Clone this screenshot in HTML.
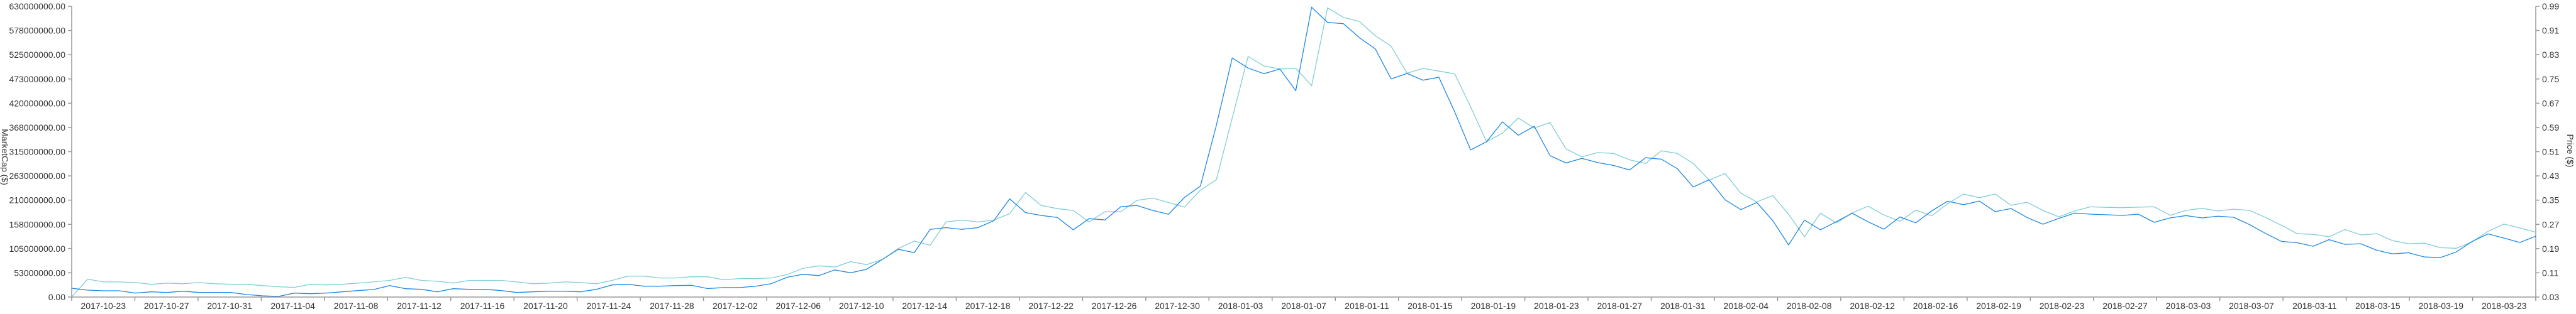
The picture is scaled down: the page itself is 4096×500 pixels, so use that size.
<!DOCTYPE html>
<html><head><meta charset="utf-8">
<style>
html,body{margin:0;padding:0;background:#fff;}
svg{display:block;font-family:"Liberation Sans",Arial,sans-serif;}
</style></head>
<body>
<svg id="chart" width="4096" height="500" xmlns="http://www.w3.org/2000/svg"></svg>
<script>
const marketCap = [19,15,13.6,13.6,8.6,11.3,10,12.7,10,10,10,5.4,2.7,1.4,8.6,7.2,8.6,11.3,14,16.3,24.9,18.1,16.7,11.3,18.1,16.7,16.7,14,10,11.3,12.7,12.7,11.3,16.7,26.3,27.6,23.5,23.5,24.9,25.5,
18.4,20.5,20.5,23.3,28.8,42.9,49.3,46.5,58.8,52.5,60.1,81.6,103.4,96.2,146.7,150.4,146.7,150.4,165.3,212.7,183,176.8,172.5,145.7,169.8,167.1,195.8,198.5,187.6,179.5,215.8,240.4,
371.5,518,496.3,484,493.9,447.3,628,595,592.3,562,537.9,472.6,484.4,469.8,476.2,401,318.8,336.5,379.6,350.6,370.1,306.2,290.5,300.4,291.3,285.1,275.4,301.8,298.7,278.1,238.5,254,210.9,189.4,204.9,165.7,112.9,166.7,145.7,163,181.7,163,147.1,173.5,160.8,186.7,207.6,
200.2,207.9,185.1,191.9,172.4,157.8,170.5,181.9,179.6,178.3,176.9,179.6,161.9,171.4,176.5,171.4,175.1,172.8,156.9,137.8,120.6,117.7,110.1,124.4,114.2,115.5,101.4,93.6,95.9,86.8,85.5,97.7,120.6,136.9,127.8,118.2,131.9];
const price = [0.03,0.089,0.080,0.080,0.078,0.072,0.076,0.074,0.078,0.074,0.072,0.072,0.068,0.064,0.062,0.072,0.070,0.072,0.076,0.080,0.085,0.095,0.085,0.082,0.076,0.085,0.085,0.085,0.080,0.074,0.076,0.080,0.078,0.074,0.085,0.099,0.099,0.093,0.093,0.097,
0.097,0.087,0.091,0.091,0.093,0.104,0.125,0.133,0.129,0.147,0.137,0.154,0.190,0.215,0.201,0.278,0.284,0.278,0.284,0.305,0.375,0.332,0.322,0.316,0.278,0.312,0.312,0.349,0.357,0.342,0.327,0.383,
0.417,0.621,0.824,0.793,0.783,0.785,0.728,0.985,0.953,0.940,0.893,0.858,0.769,0.785,0.776,0.767,0.658,0.543,0.571,0.621,0.588,0.606,0.519,0.493,0.507,0.504,0.483,0.471,0.513,0.504,0.471,0.416,0.438,0.373,0.344,0.365,0.303,0.229,0.307,0.275,0.308,0.330,0.301,0.280,0.317,0.298,0.338,
0.370,0.358,0.370,0.333,0.343,0.316,0.295,0.314,0.328,0.326,0.325,0.327,0.328,0.300,0.316,0.323,0.314,0.320,0.316,0.293,0.267,0.239,0.237,0.229,0.253,0.235,0.239,0.216,0.206,0.208,0.193,0.191,0.212,0.247,0.271,0.258,0.244];
const leftTicks = ["630000000.00","578000000.00","525000000.00","473000000.00","420000000.00","368000000.00","315000000.00","263000000.00","210000000.00","158000000.00","105000000.00","53000000.00","0.00"];
const rightTicks = ["0.99","0.91","0.83","0.75","0.67","0.59","0.51","0.43","0.35","0.27","0.19","0.11","0.03"];
const xLabels = ["2017-10-23","2017-10-27","2017-10-31","2017-11-04","2017-11-08","2017-11-12","2017-11-16","2017-11-20","2017-11-24","2017-11-28","2017-12-02","2017-12-06","2017-12-10","2017-12-14","2017-12-18","2017-12-22","2017-12-26","2017-12-30","2018-01-03","2018-01-07","2018-01-11","2018-01-15","2018-01-19","2018-01-23","2018-01-27","2018-01-31","2018-02-04","2018-02-08","2018-02-12","2018-02-16","2018-02-19","2018-02-23","2018-02-27","2018-03-03","2018-03-07","2018-03-11","2018-03-15","2018-03-19","2018-03-23"];

const NS="http://www.w3.org/2000/svg";
const svg=document.getElementById('chart');
const L=114,R=4032,T=10,B=473;
function mk(tag,attrs,parent){const e=document.createElementNS(NS,tag);for(const k in attrs)e.setAttribute(k,attrs[k]);(parent||svg).appendChild(e);return e;}
const n=marketCap.length;
function xAt(i){return L+(R-L)*i/(n-1);}
function yLeft(v){return B-(B-T)*v/630;}
function yRight(v){return B-(B-T)*(v-0.03)/0.96;}

const axisL=mk('line',{x1:L,y1:T,x2:L,y2:B+5,stroke:'#999','stroke-width':1.5});


const axisR=mk('line',{x1:R,y1:T,x2:R,y2:B+5,stroke:'#999','stroke-width':1.5});


const axisX=mk('line',{x1:L,y1:B,x2:R,y2:B,stroke:'#999','stroke-width':1.5});



leftTicks.forEach((t,k)=>{
  const y=T+(B-T)*k/(leftTicks.length-1);
  const tk=mk('line',{x1:L-6,y1:y,x2:L,y2:y,stroke:'#999','stroke-width':1.5});
  
  
  const tx=mk('text',{x:L-10,y:y+5,'text-anchor':'end','font-size':14,fill:'#333'});
  tx.textContent=t;
  
  
});
rightTicks.forEach((t,k)=>{
  const y=T+(B-T)*k/(rightTicks.length-1);
  const tk=mk('line',{x1:R,y1:y,x2:R+6,y2:y,stroke:'#999','stroke-width':1.5});
  
  
  const tx=mk('text',{x:R+10,y:y+5,'text-anchor':'start','font-size':14,fill:'#333'});
  tx.textContent=t;
  
  
});
const labelCount=xLabels.length;
const bw=(R-L)/labelCount;
for(let k=0;k<=labelCount;k++){
  const x=L+bw*k;
  const tk=mk('line',{x1:x,y1:B,x2:x,y2:B+6,stroke:'#999','stroke-width':1.5});
  
  
}
xLabels.forEach((s,k)=>{
  const tx=mk('text',{x:L+bw*(k+0.5),y:492,'text-anchor':'middle','font-size':14,fill:'#333'});
  tx.textContent=s;
  
  
});
const tl=mk('text',{x:0,y:0,transform:'translate(3,250) rotate(90)','text-anchor':'middle','font-size':14,fill:'#333'});
tl.textContent='MarketCap ($)';


const tr=mk('text',{x:0,y:0,transform:'translate(4082,240) rotate(90)','text-anchor':'middle','font-size':14,fill:'#333'});
tr.textContent='Price ($)';



const pPrice=mk('path',{d:price.map((v,i)=>(i?'L':'M')+xAt(i).toFixed(1)+','+yRight(v).toFixed(1)).join(''),fill:'none',stroke:'#80cdd6','stroke-width':1.3});


const pCap=mk('path',{d:marketCap.map((v,i)=>(i?'L':'M')+xAt(i).toFixed(1)+','+yLeft(v).toFixed(1)).join(''),fill:'none',stroke:'#1e88e5','stroke-width':1.3});


</script>
</body></html>
